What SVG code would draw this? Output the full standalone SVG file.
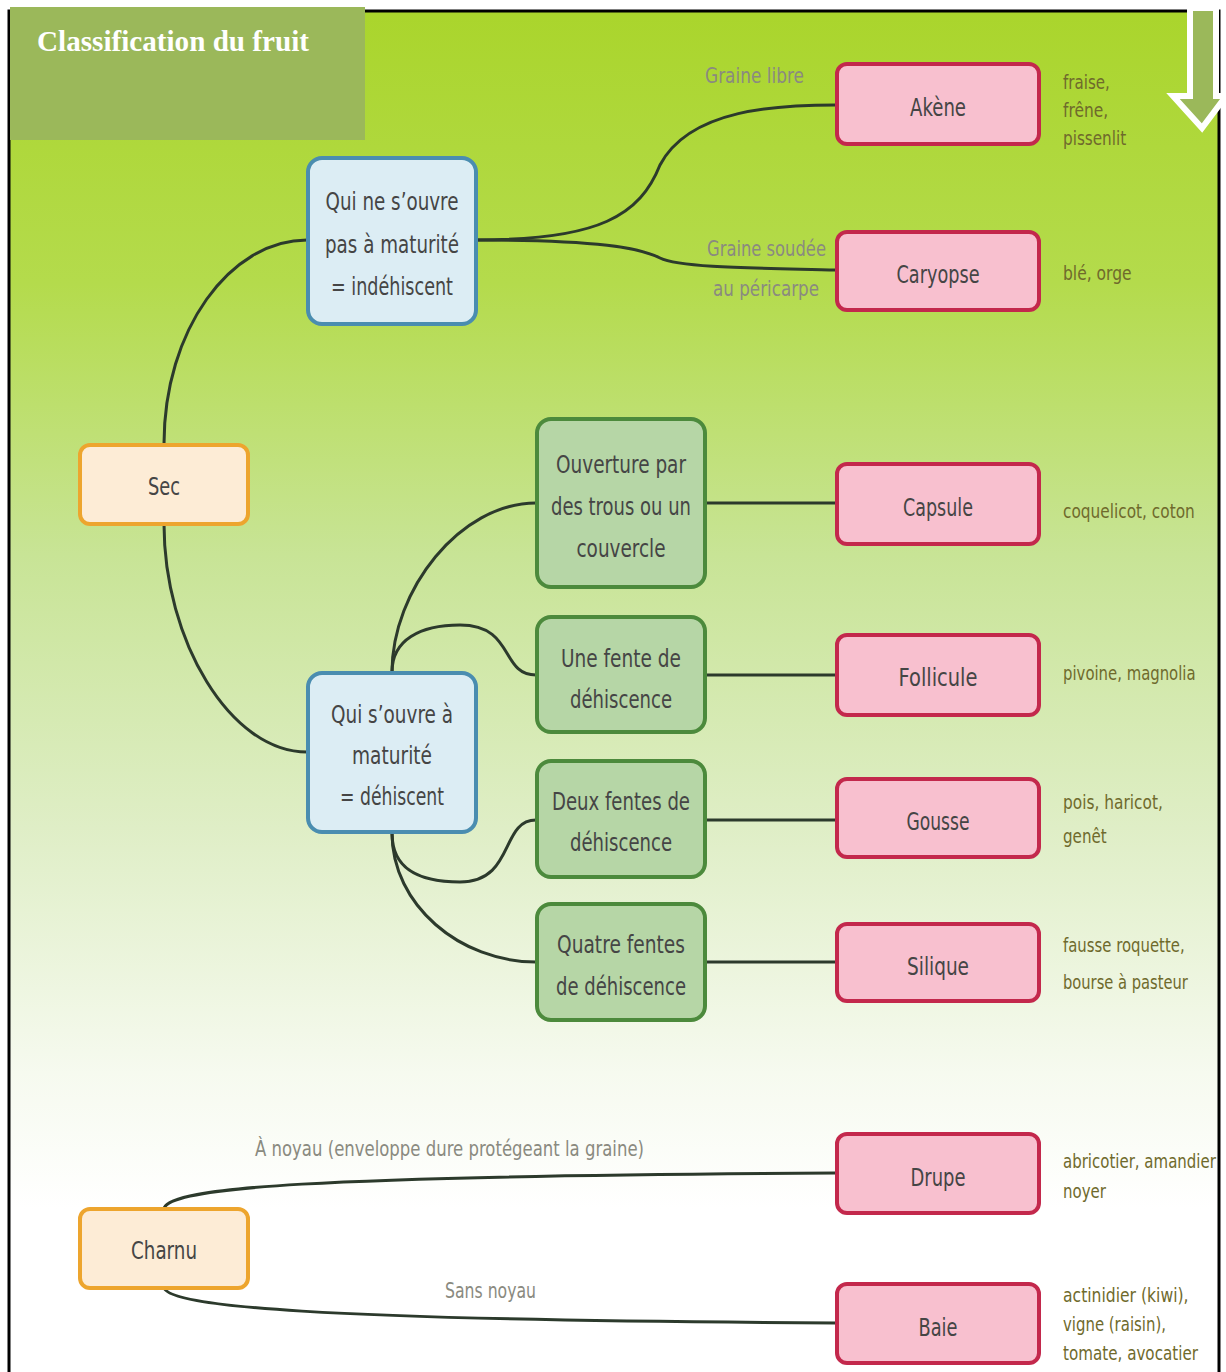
<svg xmlns="http://www.w3.org/2000/svg" width="1226" height="1372" viewBox="0 0 1226 1372">
<defs>
<linearGradient id="bg" x1="0" y1="0" x2="0" y2="1">
<stop offset="0" stop-color="#aad52c"/>
<stop offset="0.2" stop-color="#b4db4c"/>
<stop offset="0.4" stop-color="#c8e496"/>
<stop offset="0.6" stop-color="#dfeec6"/>
<stop offset="0.78" stop-color="#f6faef"/>
<stop offset="0.88" stop-color="#ffffff"/>
<stop offset="1" stop-color="#ffffff"/>
</linearGradient>
<style>
.pink rect{fill:#f8c0cf;stroke:#c3284c;stroke-width:4}
.blue rect{fill:#dcedf4;stroke:#4a8db0;stroke-width:4}
.orange rect{fill:#fdecd6;stroke:#eda52e;stroke-width:4}
.green rect{fill:#b6d6a6;stroke:#4c8a3c;stroke-width:4}
text{font-family:"DejaVu Sans",sans-serif}
.t{font-size:25px;fill:#454545;text-anchor:middle}
.lbl{font-size:22px;fill:#8a8a80}
.ex{font-size:20px;fill:#6f6a2c}
#connectors path{fill:none;stroke:#2c3a2c;stroke-width:3}
</style>
</defs>
<rect x="0" y="0" width="1226" height="1372" fill="#ffffff"/>
<rect x="9" y="11" width="1210" height="1361" fill="url(#bg)"/>
<path d="M9,1372 V11 H1219 V1372" fill="none" stroke="#000" stroke-width="3"/>
<g id="title">
<rect x="10" y="7" width="355" height="133" fill="#9bb85a"/>
<text x="37" y="51" textLength="272" lengthAdjust="spacingAndGlyphs" style="font-family:'Liberation Serif',serif;font-weight:bold;font-size:29px;fill:#ffffff">Classification du fruit</text>
</g>
<g id="arrow">
<path d="M1190,8 H1216 V96 H1226 L1202,128 L1173,96 H1190 Z" fill="#9bb85a" stroke="#ffffff" stroke-width="6" stroke-linejoin="miter"/>
</g>
<g id="connectors">
<path d="M164,444 C164,330 230,240 307,240"/>
<path d="M164,524 C164,640 230,752 307,752"/>
<path d="M477,240 C600,240 640,215 660,165 C690,108 780,105 836,105"/>
<path d="M477,240 C600,240 640,248 660,258 C680,268 760,268 836,270"/>
<path d="M392,672 C392,590 460,503 536,503"/>
<path d="M392,672 C392,640 420,625 460,625 C515,625 500,675 536,675"/>
<path d="M392,833 C392,870 420,882 460,882 C515,882 500,820 536,820"/>
<path d="M392,833 C392,905 460,962 536,962"/>
<path d="M706,503 H836"/>
<path d="M706,675 H836"/>
<path d="M706,820 H836"/>
<path d="M706,962 H836"/>
<path d="M164,1208 C172,1188 300,1176 836,1173"/>
<path d="M164,1288 C172,1306 300,1320 836,1323"/>
</g>
<g id="labels">
<text class="lbl" x="705" y="83" textLength="99" lengthAdjust="spacingAndGlyphs">Graine libre</text>
<text class="lbl" x="707" y="256" textLength="119" lengthAdjust="spacingAndGlyphs">Graine soudée</text>
<text class="lbl" x="713" y="296" textLength="106" lengthAdjust="spacingAndGlyphs">au péricarpe</text>
<text class="lbl" x="255" y="1156" textLength="389" lengthAdjust="spacingAndGlyphs">À noyau (enveloppe dure protégeant la graine)</text>
<text class="lbl" x="445" y="1298" textLength="91" lengthAdjust="spacingAndGlyphs">Sans noyau</text>
</g>
<g id="examples" transform="translate(1063,0) scale(0.78,1)">
<text class="ex" x="0" y="89" textLength="60" lengthAdjust="spacingAndGlyphs">fraise,</text>
<text class="ex" x="0" y="117" textLength="58" lengthAdjust="spacingAndGlyphs">frêne,</text>
<text class="ex" x="0" y="145" textLength="81" lengthAdjust="spacingAndGlyphs">pissenlit</text>
<text class="ex" x="0" y="280" textLength="88" lengthAdjust="spacingAndGlyphs">blé, orge</text>
<text class="ex" x="0" y="518" textLength="169" lengthAdjust="spacingAndGlyphs">coquelicot, coton</text>
<text class="ex" x="0" y="680" textLength="170" lengthAdjust="spacingAndGlyphs">pivoine, magnolia</text>
<text class="ex" x="0" y="809" textLength="128" lengthAdjust="spacingAndGlyphs">pois, haricot,</text>
<text class="ex" x="0" y="843" textLength="56" lengthAdjust="spacingAndGlyphs">genêt</text>
<text class="ex" x="0" y="952" textLength="156" lengthAdjust="spacingAndGlyphs">fausse roquette,</text>
<text class="ex" x="0" y="989" textLength="160" lengthAdjust="spacingAndGlyphs">bourse à pasteur</text>
<text class="ex" x="0" y="1168" textLength="196" lengthAdjust="spacingAndGlyphs">abricotier, amandier</text>
<text class="ex" x="0" y="1198" textLength="55" lengthAdjust="spacingAndGlyphs">noyer</text>
<text class="ex" x="0" y="1302" textLength="161" lengthAdjust="spacingAndGlyphs">actinidier (kiwi),</text>
<text class="ex" x="0" y="1331" textLength="132" lengthAdjust="spacingAndGlyphs">vigne (raisin),</text>
<text class="ex" x="0" y="1360" textLength="173" lengthAdjust="spacingAndGlyphs">tomate, avocatier</text>
</g>
<g id="sec" class="orange"><rect x="80" y="445" width="168" height="79" rx="10"/><text class="t" x="164" y="495" textLength="32" lengthAdjust="spacingAndGlyphs">Sec</text></g>
<g id="charnu" class="orange"><rect x="80" y="1209" width="168" height="79" rx="10"/><text class="t" x="164" y="1259" textLength="66" lengthAdjust="spacingAndGlyphs">Charnu</text></g>
<g id="indehiscent" class="blue"><rect x="308" y="158" width="168" height="166" rx="14"/>
<text class="t" x="392" y="210" textLength="133" lengthAdjust="spacingAndGlyphs">Qui ne s’ouvre</text><text class="t" x="392" y="253" textLength="134" lengthAdjust="spacingAndGlyphs">pas à maturité</text><text class="t" x="392" y="295" textLength="122" lengthAdjust="spacingAndGlyphs">= indéhiscent</text></g>
<g id="dehiscent" class="blue"><rect x="308" y="673" width="168" height="159" rx="14"/>
<text class="t" x="392" y="723" textLength="122" lengthAdjust="spacingAndGlyphs">Qui s’ouvre à</text><text class="t" x="392" y="764" textLength="80" lengthAdjust="spacingAndGlyphs">maturité</text><text class="t" x="392" y="805" textLength="104" lengthAdjust="spacingAndGlyphs">= déhiscent</text></g>
<g id="ouverture" class="green"><rect x="537" y="419" width="168" height="168" rx="14"/>
<text class="t" x="621" y="473" textLength="130" lengthAdjust="spacingAndGlyphs">Ouverture par</text><text class="t" x="621" y="515" textLength="140" lengthAdjust="spacingAndGlyphs">des trous ou un</text><text class="t" x="621" y="557" textLength="89" lengthAdjust="spacingAndGlyphs">couvercle</text></g>
<g id="unefente" class="green"><rect x="537" y="617" width="168" height="115" rx="14"/>
<text class="t" x="621" y="667" textLength="120" lengthAdjust="spacingAndGlyphs">Une fente de</text><text class="t" x="621" y="708" textLength="102" lengthAdjust="spacingAndGlyphs">déhiscence</text></g>
<g id="deuxfentes" class="green"><rect x="537" y="761" width="168" height="116" rx="14"/>
<text class="t" x="621" y="810" textLength="138" lengthAdjust="spacingAndGlyphs">Deux fentes de</text><text class="t" x="621" y="851" textLength="102" lengthAdjust="spacingAndGlyphs">déhiscence</text></g>
<g id="quatrefentes" class="green"><rect x="537" y="904" width="168" height="116" rx="14"/>
<text class="t" x="621" y="953" textLength="128" lengthAdjust="spacingAndGlyphs">Quatre fentes</text><text class="t" x="621" y="995" textLength="130" lengthAdjust="spacingAndGlyphs">de déhiscence</text></g>
<g id="akene" class="pink"><rect x="837" y="64" width="202" height="80" rx="10"/><text class="t" x="938" y="116" textLength="56" lengthAdjust="spacingAndGlyphs">Akène</text></g>
<g id="caryopse" class="pink"><rect x="837" y="232" width="202" height="78" rx="10"/><text class="t" x="938" y="283" textLength="83" lengthAdjust="spacingAndGlyphs">Caryopse</text></g>
<g id="capsule" class="pink"><rect x="837" y="464" width="202" height="80" rx="10"/><text class="t" x="938" y="516" textLength="70" lengthAdjust="spacingAndGlyphs">Capsule</text></g>
<g id="follicule" class="pink"><rect x="837" y="635" width="202" height="80" rx="10"/><text class="t" x="938" y="686" textLength="79" lengthAdjust="spacingAndGlyphs">Follicule</text></g>
<g id="gousse" class="pink"><rect x="837" y="779" width="202" height="78" rx="10"/><text class="t" x="938" y="830" textLength="63" lengthAdjust="spacingAndGlyphs">Gousse</text></g>
<g id="silique" class="pink"><rect x="837" y="924" width="202" height="77" rx="10"/><text class="t" x="938" y="975" textLength="62" lengthAdjust="spacingAndGlyphs">Silique</text></g>
<g id="drupe" class="pink"><rect x="837" y="1134" width="202" height="79" rx="10"/><text class="t" x="938" y="1186" textLength="55" lengthAdjust="spacingAndGlyphs">Drupe</text></g>
<g id="baie" class="pink"><rect x="837" y="1284" width="202" height="79" rx="10"/><text class="t" x="938" y="1336" textLength="39" lengthAdjust="spacingAndGlyphs">Baie</text></g>
</svg>
